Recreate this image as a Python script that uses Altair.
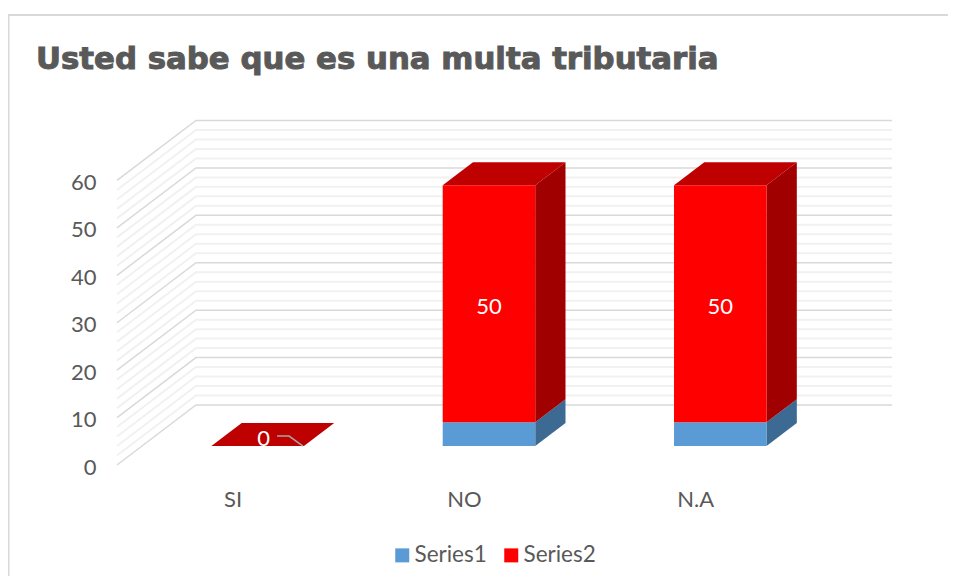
import altair as alt
import pandas as pd

TITLE = "Usted sabe que es una multa tributaria"
categories = ["SI", "NO", "N.A"]
series1 = [0, 5, 5]
series2 = [0, 50, 50]
data_labels = ["0", "50", "50"]
major_ticks = [0, 10, 20, 30, 40, 50, 60]
minor_ticks = [2, 4, 6, 8, 12, 14, 16, 18, 22, 24, 26, 28, 32, 34, 36, 38, 42, 44, 46, 48, 52, 54, 56, 58]
leader_x = [0.192, 0.244, 0.304]
leader_y = [6.1, 6.1, 4.0]

# oblique projection, in data units
DX, DY = 0.3415, 12.65
D1, D2 = 0.3167, 0.70
HALF = 0.2
XMIN, XMAX, YMAX = -0.5, 2.8506, 72.75

sx = alt.Scale(domain=[XMIN, XMAX], nice=False, zero=False)
sy = alt.Scale(domain=[0, YMAX], nice=False, zero=False)
AX = alt.Axis(values=[0, 1, 2], labelExpr="['SI','NO','N.A'][datum.value]",
              domain=False, ticks=False, grid=False, labelPadding=24,
              labelFont="Lato", labelFontSize=22, labelColor="#595959", labelAngle=0)
AY = alt.Axis(values=major_ticks, domain=False, ticks=False, grid=False, labelPadding=21,
              labelFont="Lato", labelFontSize=22, labelColor="#595959", labelOffset=2)
X = alt.X("x:Q", scale=sx, axis=AX, title=None)
Y = alt.Y("y:Q", scale=sy, axis=AY, title=None)

# ---------- grid ----------
grid = []
for kind, ticks in (("minor", minor_ticks), ("major", major_ticks)):
    for v in ticks:
        grid += [
            dict(kind=kind, v=v, o=0, x=XMIN, y=v),
            dict(kind=kind, v=v, o=1, x=XMIN + DX, y=v + DY),
            dict(kind=kind, v=v, o=2, x=XMAX, y=v + DY),
        ]
grid = pd.DataFrame(grid)


def grid_layer(kind, color, width):
    return alt.Chart(grid[grid.kind == kind]).mark_line(color=color, strokeWidth=width).encode(
        x=X, y=Y, detail="v:N", order="o:Q")


# ---------- bars ----------
front, side, top, labels = [], [], [], []
for i, cat in enumerate(categories):
    a, b = series1[i], series1[i] + series2[i]
    for name, lo, hi, sc in (("Series1", 0, a, "#3c6a92"), ("Series2", a, b, "#a00000")):
        front.append(dict(series=name, x=i - HALF + D1 * DX, x2=i + HALF + D1 * DX, y=lo + D1 * DY, y2=hi + D1 * DY))
        key = f"{cat}-{name}"
        side.append(dict(face=key, c=sc, x=i + HALF + D1 * DX, y=lo + D1 * DY, y2=hi + D1 * DY))
        side.append(dict(face=key, c=sc, x=i + HALF + D2 * DX, y=lo + D2 * DY, y2=hi + D2 * DY))
    key = f"{cat}-top"
    top.append(dict(face=key, x=i - HALF + D1 * DX, x2=i + HALF + D1 * DX, y=b + D1 * DY))
    top.append(dict(face=key, x=i - HALF + D2 * DX, x2=i + HALF + D2 * DX, y=b + D2 * DY))
    labels.append(dict(t=data_labels[i], x=i + D1 * DX, y=a + series2[i] / 2 + D1 * DY))

side_layer = alt.Chart(pd.DataFrame(side)).mark_area(interpolate="linear").encode(
    x=X, y=Y, y2="y2:Q", detail="face:N", color=alt.Color("c:N", scale=None))
top_layer = alt.Chart(pd.DataFrame(top)).mark_area(orient="horizontal", color="#bf0000").encode(
    y=Y, x=X, x2="x2:Q", detail="face:N")
front_layer = alt.Chart(pd.DataFrame(front)).mark_rect().encode(
    x=X, x2="x2:Q", y=Y, y2="y2:Q",
    color=alt.Color("series:N",
                    scale=alt.Scale(domain=["Series1", "Series2"], range=["#5b9bd5", "#ff0000"]),
                    legend=alt.Legend(orient="none", legendX=274, legendY=424, direction="horizontal",
                                      title=None, symbolType="square", symbolSize=196, symbolStrokeWidth=0,
                                      labelFont="Lato", labelFontSize=22.5, labelColor="#595959",
                                      columnPadding=13, labelOffset=1, padding=0)))

lab = pd.DataFrame(labels)
label_big = alt.Chart(lab[lab.t != "0"]).mark_text(font="Lato", fontSize=22, color="white", dy=3).encode(
    x=X, y=Y, text="t:N")
label_zero = alt.Chart(lab[lab.t == "0"]).mark_text(font="Lato", fontSize=22, color="white", dx=6, dy=-7).encode(
    x=X, y=Y, text="t:N")
leader = alt.Chart(pd.DataFrame({"x": leader_x, "y": leader_y, "o": [0, 1, 2]})).mark_line(
    color="#a6a6a6", strokeWidth=1.5).encode(x=X, y=Y, order="o:Q")

# ---------- chart frame and title ----------
one = pd.DataFrame({"a": [0]})
frame_top = alt.Chart(one).mark_rule(color="#d9d9d9", strokeWidth=2).encode(
    x=alt.value(-109), x2=alt.value(831), y=alt.value(-105))
frame_left = alt.Chart(one).mark_rule(color="#d9d9d9", strokeWidth=2).encode(
    x=alt.value(-108.5), y=alt.value(-105), y2=alt.value(456))
title = alt.Chart(pd.DataFrame({"t": [TITLE]})).mark_text(
    font="DejaVu Sans", fontWeight="bold", fontSize=30.8, color="#595959", align="left", baseline="alphabetic",
    stroke="#595959", strokeWidth=1,
).encode(x=alt.value(-81), y=alt.value(-51), text="t:N")

chart = alt.layer(
    grid_layer("minor", "#f1f1f1", 2),
    grid_layer("major", "#d9d9d9", 1.5),
    side_layer, top_layer, front_layer, label_big, label_zero, leader,
    frame_top, frame_left, title,
).resolve_scale(color="independent").properties(
    width=775, height=345,
    padding={"left": 109, "top": 112, "right": 56, "bottom": 111},
    autosize=alt.AutoSizeParams(type="none"),
    background="white",
).configure_view(stroke=None)

chart.save("out.html", embed_options={"renderer": "svg", "actions": False})
